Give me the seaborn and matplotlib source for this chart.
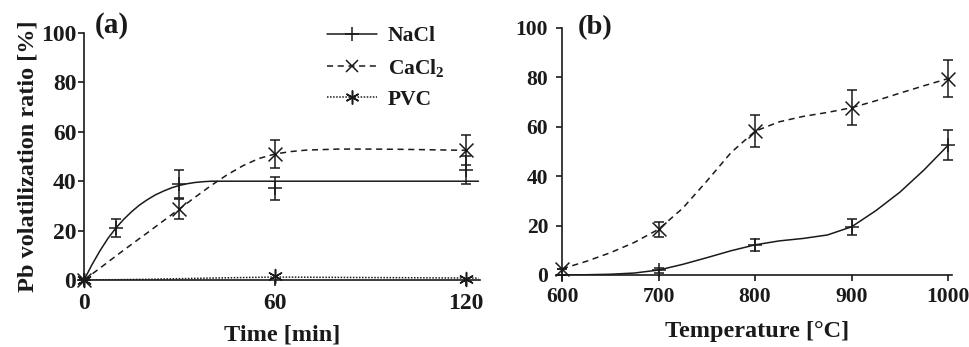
import numpy as np
import pandas as pd
import matplotlib
matplotlib.use("Agg")
import matplotlib.pyplot as plt
import seaborn as sns
from matplotlib.lines import Line2D

# ---------------- data ----------------
# Panel (a): time series, measured points with error bars
time_pts = [0, 10, 30, 60, 120]
nacl_a = [0, 21, 38.8, 37.2, 44.5]
nacl_a_err = [0, 3.5, 5.7, 4.7, 5.5]
time_pts_ca = [0, 30, 60, 120]
cacl2_a = [0, 28.7, 51, 52.5]
cacl2_a_err = [0, 4.2, 5.8, 6.0]
time_pts_pvc = [0, 60, 120]
pvc_a = [0, 1.5, 0.5]

# Panel (a): fitted curves
fit_t_nacl = [0, 2.5, 5, 7.5, 10, 12.5, 15, 17.5, 20, 22.5, 25, 27.5, 30, 32.5, 35, 37.5, 40, 45, 60, 90, 124]
fit_nacl = [0, 6.2, 11.8, 16.8, 21.0, 24.6, 27.7, 30.4, 32.6, 34.5, 36.0, 37.3, 38.3, 39.0, 39.5, 39.8, 40.0, 40.0, 40.0, 40.0, 40.0]
fit_t_ca = [0, 5, 10, 15, 20, 25, 30, 35, 40, 45, 50, 55, 60, 65, 70, 80, 90, 100, 110, 120]
fit_ca = [0, 4.8, 9.7, 14.5, 19.2, 24.0, 28.8, 33.6, 38.3, 42.6, 46.3, 49.2, 51.0, 52.0, 52.6, 53.0, 53.0, 52.9, 52.7, 52.5]
fit_t_pvc = [0, 20, 40, 60, 90, 124]
fit_pvc = [0, 0.3, 0.8, 1.2, 1.0, 0.8]

# Panel (b): temperature series
temp_pts = [600, 700, 800, 900, 1000]
nacl_b = [0, 2, 12.2, 19.5, 52.5]
nacl_b_err = [0, 1.0, 2.3, 3.2, 6.0]
cacl2_b = [2.5, 18.5, 58.2, 67.7, 79.5]
cacl2_b_err = [0, 3.0, 6.5, 7.0, 7.6]

# Panel (b): smooth curves
fit_T = [600, 625, 650, 675, 700, 725, 750, 775, 800, 825, 850, 875, 900, 925, 950, 975, 1000]
fit_nacl_b = [0, 0.1, 0.3, 0.8, 2.0, 4.3, 7.0, 9.8, 12.2, 13.8, 14.8, 16.2, 19.5, 26.0, 33.5, 42.5, 52.5]
fit_cacl2_b = [2.5, 5.5, 9.0, 13.2, 18.5, 27.0, 38.0, 49.5, 58.2, 62.0, 64.2, 65.8, 67.7, 70.5, 73.6, 76.6, 79.5]

yticks = [0, 20, 40, 60, 80, 100]
xticks_a = [0, 60, 120]
xticks_b = [600, 700, 800, 900, 1000]

# ---------------- style ----------------
sns.set_style("ticks")
plt.rcParams["font.family"] = ["Liberation Serif", "DejaVu Serif"]
plt.rcParams["font.weight"] = "bold"
plt.rcParams["axes.labelweight"] = "bold"
plt.rcParams["mathtext.fontset"] = "custom"
plt.rcParams["mathtext.rm"] = "Liberation Serif:bold"
plt.rcParams["mathtext.bf"] = "Liberation Serif:bold"
plt.rcParams["mathtext.it"] = "Liberation Serif:bold"

INK = "#1a1a1a"
LW = 1.1

fig = plt.figure(figsize=(9.7, 3.47), dpi=100)
axa = fig.add_axes([0.0866, 0.193, 0.408, 0.712])
axb = fig.add_axes([0.5794, 0.2075, 0.402, 0.712])


def style_axis(ax, xlim, xticks, fs, ypad):
    ax.set_xlim(*xlim)
    ax.set_ylim(0, 100)
    ax.set_xticks(xticks)
    ax.set_yticks(yticks)
    for s in ["top", "right"]:
        ax.spines[s].set_visible(False)
    for s in ["left", "bottom"]:
        ax.spines[s].set_color(INK)
        ax.spines[s].set_linewidth(1.2)
    ax.tick_params(axis="both", direction="out", length=4, width=1.2, color=INK,
                   labelsize=fs, labelcolor=INK)
    ax.tick_params(axis="x", pad=5)
    ax.tick_params(axis="y", pad=ypad)
    for lab in ax.get_xticklabels() + ax.get_yticklabels():
        lab.set_fontweight("bold")


def errpts(ax, x, y, e, marker, ms):
    ax.errorbar(x, y, yerr=e, fmt="none", ecolor=INK, elinewidth=LW, capsize=3.6,
                capthick=LW, clip_on=False, zorder=3)
    sns.scatterplot(x=x, y=y, ax=ax, marker=marker, s=ms, color=INK,
                    linewidth=LW, edgecolor=INK, clip_on=False, zorder=4, legend=False)


# ---------------- panel (a) ----------------
sns.lineplot(x=fit_t_nacl, y=fit_nacl, ax=axa, color=INK, lw=LW, linestyle="-", zorder=2)
sns.lineplot(x=fit_t_ca, y=fit_ca, ax=axa, color=INK, lw=LW, linestyle=(0, (4, 3)), zorder=2)
sns.lineplot(x=fit_t_pvc, y=fit_pvc, ax=axa, color=INK, lw=LW, linestyle=(0, (1, 1)), zorder=2)
errpts(axa, time_pts, nacl_a, nacl_a_err, "+", 100)
errpts(axa, time_pts_ca, cacl2_a, cacl2_a_err, "x", 100)
axa.scatter(time_pts_pvc, pvc_a, marker=(6, 2, 0), s=100, color=INK, linewidths=LW,
            clip_on=False, zorder=4)
style_axis(axa, (0, 124.4), xticks_a, 17, 1.5)
axa.set_xlabel("Time [min]", fontsize=17.5, fontweight="bold", color=INK, labelpad=8)
axa.set_ylabel("Pb volatilization ratio [%]", fontsize=17.5, fontweight="bold", color=INK)
axa.yaxis.set_label_coords(-0.115, 0.5)
axa.text(0.027, 1.03, "(a)", transform=axa.transAxes, fontsize=21, fontweight="bold",
         color=INK, va="center", ha="left")

# legend
handles = [
    Line2D([], [], color=INK, lw=LW, linestyle="-", marker="+", markersize=10, mew=LW),
    Line2D([], [], color=INK, lw=LW, linestyle=(0, (4, 3)), marker="x", markersize=8, mew=LW),
    Line2D([], [], color=INK, lw=LW, linestyle=(0, (1, 1)), marker=(6, 2, 0), markersize=10, mew=LW),
]
labels = ["NaCl", r"CaCl$_2$", "PVC"]
leg = axa.legend(handles, labels, loc="upper left", bbox_to_anchor=(0.615, 1.028), frameon=False,
                 fontsize=15.5, handlelength=2.3, handletextpad=0.5, labelspacing=0.5,
                 numpoints=1, borderaxespad=0.0, borderpad=0.0)
for t in leg.get_texts():
    t.set_fontweight("bold")
    t.set_color(INK)

# ---------------- panel (b) ----------------
sns.lineplot(x=fit_T, y=fit_nacl_b, ax=axb, color=INK, lw=LW, linestyle="-", zorder=2)
sns.lineplot(x=fit_T, y=fit_cacl2_b, ax=axb, color=INK, lw=LW, linestyle=(0, (4, 3)), zorder=2)
errpts(axb, temp_pts, nacl_b, nacl_b_err, "+", 90)
errpts(axb, temp_pts, cacl2_b, cacl2_b_err, "x", 100)
style_axis(axb, (600, 1004), xticks_b, 15.5, 6)
axb.set_xlabel("Temperature [°C]", fontsize=17.5, fontweight="bold", color=INK, labelpad=10)
axb.set_ylabel("")
axb.text(0.04, 1.0, "(b)", transform=axb.transAxes, fontsize=20.5, fontweight="bold",
         color=INK, va="center", ha="left")

fig.savefig("out.png", dpi=100)
